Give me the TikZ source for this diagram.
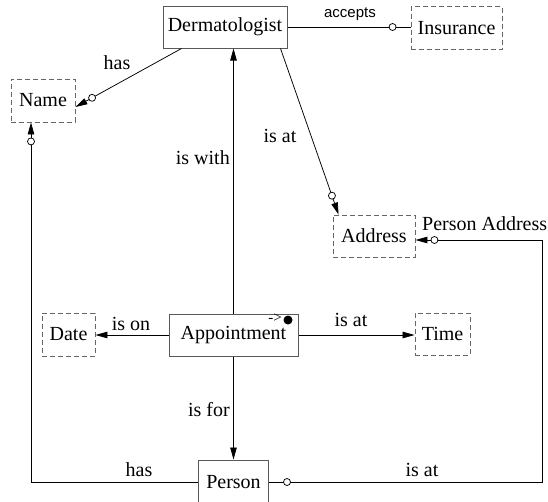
\documentclass[tikz,border=0pt]{standalone}
\usepackage{fontspec}
\setmainfont{Liberation Serif}
\newfontfamily\diagserif{Liberation Serif}
\newfontfamily\labelsans{Liberation Sans}
\usetikzlibrary{arrows.meta,calc}

\begin{document}
\begin{tikzpicture}[x=1pt,y=-1pt,
  font=\diagserif\fontsize{20}{24}\selectfont,
  entity/.style={draw=black!65, line width=1pt, minimum height=42pt, inner sep=0pt},
  valuebox/.style={draw=black!60, line width=0.9pt, dash pattern=on 5pt off 3pt,
                   minimum height=42pt, inner sep=0pt},
  rel/.style={line width=0.75pt},
  tip/.style={-{Triangle[length=12pt,width=6.5pt]}},
  ocirc/.style={circle, draw, fill=white, inner sep=0pt, minimum size=7pt, line width=0.75pt},
  lbl/.style={inner sep=0pt, anchor=base}]

\useasboundingbox (0,0) rectangle (548,501);

% entities and value types
\node[entity, minimum width=124pt] (derm) at (225,27) {Dermatologist};
\node[valuebox, minimum width=91pt, minimum height=43pt] (ins) at (456.5,28) {Insurance};
\node[valuebox, minimum width=64pt, minimum height=43pt] (name) at (43,100.5) {Name};
\node[valuebox, minimum width=82pt] (addr) at (374,236) {Address};
\node[valuebox, minimum width=53pt, minimum height=43pt] (date) at (68.5,334.5) {Date};
\node[entity, minimum width=129pt] (appt) at (233.5,335) {Appointment};
\node[valuebox, minimum width=55pt] (time) at (442.5,334) {Time};
\node[entity, minimum width=70pt, minimum height=44pt] (person) at (233.5,482) {Person};

% marker in the corner of Appointment
\node[inner sep=0pt, font=\diagserif\fontsize{15}{15}\selectfont] (mark) at (275,318) {->};
\node[circle, fill=black, inner sep=0pt, minimum size=9pt] (dot) at (288,320) {};

% helper points
\coordinate (dn) at ($(derm.south west)+(19,0)$);
\coordinate (nt) at ($(name.east)+(0,6.5)$);
\coordinate (da) at ($(derm.south east)+(-7,0)$);
\coordinate (at) at ($(addr.north west)+(6,0)$);
\coordinate (nb) at ($(name.south)+(-12,0)$);
\coordinate (ae) at ($(addr.east)+(0,4)$);
\coordinate (bend) at (542,0);

% relationships
\draw[rel] (derm.east) -- (derm.east -| ins.west);
\draw[rel,tip] (dn) -- (nt);
\draw[rel,tip] (da) -- (at);
\draw[rel,tip] (appt.north) -- (appt.north |- derm.south);
\draw[rel,tip] (appt.west) -- (appt.west -| date.east);
\draw[rel,tip] (appt.east) -- (appt.east -| time.west);
\draw[rel,tip] (appt.south) -- (person.north);
\draw[rel,tip] (person.west) -| (nb);
\draw[rel,tip] (person.east) -- (person.east -| bend) |- (ae);

% optional-role circles
\node[ocirc] at ($(derm.east -| ins.west)+(-18,0)$) {};
\node[ocirc] at ($(nt)!19pt!(dn)$) {};
\node[ocirc] at ($(at)!20pt!(da)$) {};
\node[ocirc] at ($(nb)+(0,19)$) {};
\node[ocirc] at ($(person.east)+(18,0)$) {};
\node[ocirc] at ($(ae)+(19,0)$) {};

% labels
\node[lbl, font=\labelsans\fontsize{15}{18}\selectfont] (lacc) at (350,17.5) {accepts};
\node[lbl] (lhas1) at (117,69) {has};
\node[lbl] (lisat1) at (280,142) {is at};
\node[lbl, anchor=base east] (lwith) at (230,164) {is with};
\node[lbl] (lison) at (131,330) {is on};
\node[lbl] (lisat2) at (351,326) {is at};
\node[lbl, anchor=base east] (lfor) at (230,416) {is for};
\node[lbl] (lhas2) at (139,476) {has};
\node[lbl] (lisat3) at (422,476) {is at};
\node[lbl, anchor=base west] (lpa) at (422,230) {Person Address};
\end{tikzpicture}
\end{document}
